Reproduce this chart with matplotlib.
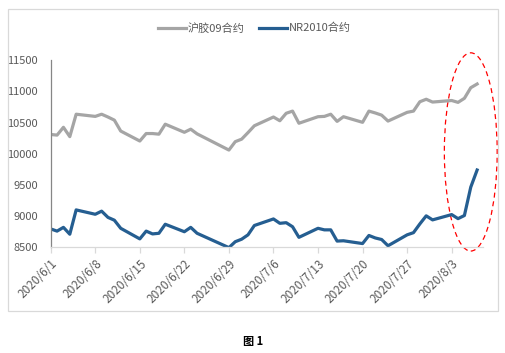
# Rubber futures: SHFE 09 vs NR2010, June-August 2020

import pandas as pd
import matplotlib.pyplot as plt
import matplotlib.dates as mdates
from matplotlib.patches import Ellipse, Rectangle

plt.rcParams['font.family'] = ['Noto Sans CJK SC', 'DejaVu Sans']

dates = [
    "2020-06-01", "2020-06-02", "2020-06-03", "2020-06-04", "2020-06-05",
    "2020-06-08", "2020-06-09", "2020-06-10", "2020-06-11", "2020-06-12",
    "2020-06-15", "2020-06-16", "2020-06-17", "2020-06-18", "2020-06-19",
    "2020-06-22", "2020-06-23", "2020-06-24", "2020-06-29", "2020-06-30",
    "2020-07-01", "2020-07-02", "2020-07-03",
    "2020-07-06", "2020-07-07", "2020-07-08", "2020-07-09", "2020-07-10",
    "2020-07-13", "2020-07-14", "2020-07-15", "2020-07-16", "2020-07-17",
    "2020-07-20", "2020-07-21", "2020-07-22", "2020-07-23", "2020-07-24",
    "2020-07-27", "2020-07-28", "2020-07-29", "2020-07-30", "2020-07-31",
    "2020-08-03", "2020-08-04", "2020-08-05", "2020-08-06", "2020-08-07",
]

ru09 = [
    10310, 10300, 10425, 10275, 10635,
    10600, 10635, 10590, 10540, 10365,
    10205, 10325, 10325, 10315, 10475,
    10345, 10395, 10320, 10060, 10195,
    10235, 10340, 10450,
    10590, 10530, 10650, 10685, 10490,
    10595, 10600, 10635, 10520, 10595,
    10505, 10685, 10655, 10620, 10525,
    10665, 10685, 10835, 10875, 10830,
    10855, 10825, 10890, 11060, 11120,
]

nr2010 = [
    8795, 8760, 8820, 8710, 9100,
    9030, 9080, 8980, 8935, 8805,
    8635, 8760, 8715, 8725, 8870,
    8750, 8820, 8725, 8495, 8590,
    8630, 8700, 8850,
    8955, 8885, 8895, 8830, 8660,
    8805, 8780, 8780, 8600, 8605,
    8560, 8690, 8650, 8625, 8525,
    8700, 8735, 8875, 9005, 8940,
    9025, 8960, 9010, 9465, 9740,
]

series_names = ["沪胶09合约", "NR2010合约"]
tick_dates = pd.date_range("2020-06-01", "2020-08-03", freq="7D")

x = pd.to_datetime(dates)

fig = plt.figure(figsize=(5.05, 3.53), dpi=100)
ax = fig.add_axes([0.1004, 0.2994, 0.857, 0.5298])

ax.plot(x, ru09, color='#A5A5A5', lw=2.3, label=series_names[0], solid_joinstyle='round')
ax.plot(x, nr2010, color='#255E91', lw=2.3, label=series_names[1], solid_joinstyle='round')

ax.set_ylim(8500, 11500)
ax.set_yticks(range(8500, 11501, 500))
ax.set_xlim(pd.Timestamp("2020-06-01"), pd.Timestamp("2020-08-08"))
ax.set_xticks(tick_dates)
ax.set_xticklabels([f"{d.year}/{d.month}/{d.day}" for d in tick_dates],
                   rotation=45, ha='right', rotation_mode='anchor')

for s in ['top', 'right']:
    ax.spines[s].set_visible(False)
ax.spines['left'].set_color('#868686')
ax.spines['left'].set_linewidth(0.9)
ax.spines['bottom'].set_color('#D9D9D9')
ax.spines['bottom'].set_linewidth(0.9)
ax.tick_params(axis='y', length=0, pad=9, labelsize=8, labelcolor='#595959')
ax.tick_params(axis='x', length=4, width=0.9, color='#D9D9D9', pad=3,
               labelsize=8.5, labelcolor='#595959')

# red dashed ellipse around the last week
ell = Ellipse((mdates.date2num(pd.Timestamp("2020-08-06")), 10030),
              width=8.3, height=3180, fill=False, edgecolor='red',
              lw=0.9, ls=(0, (4, 3)), clip_on=False)
ax.add_patch(ell)

fig.legend(loc='center', bbox_to_anchor=(0.504, 1 - 28 / 353), ncol=2,
           frameon=False, fontsize=8, handlelength=2.5, handletextpad=0.2,
           columnspacing=1.3, labelcolor='#595959')

# chart border
fig.patches.append(Rectangle((7.5 / 505, 1 - 311 / 353), 490.5 / 505, 302 / 353,
                             transform=fig.transFigure, fill=False,
                             edgecolor='#D9D9D9', lw=0.9))

fig.text(253 / 505, 1 - 341 / 353, "图 1", ha='center', va='center',
         fontsize=8, fontweight='bold', color='black')

fig.savefig('out.png', dpi=100)
